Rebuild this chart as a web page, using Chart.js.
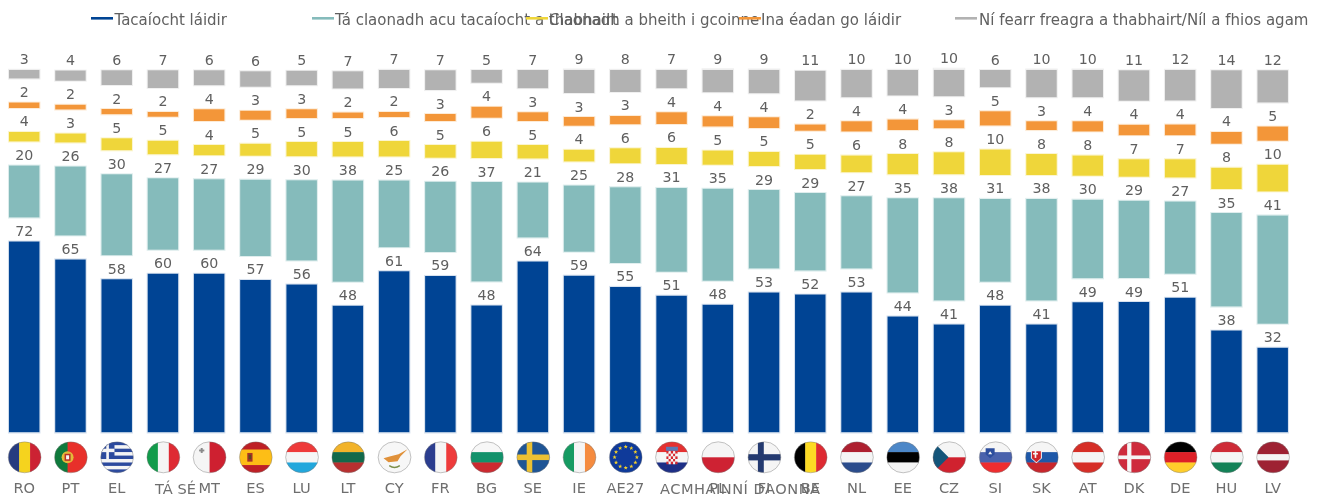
<!DOCTYPE html>
<html lang="ga">
<head>
<meta charset="utf-8">
<title>Tacaíocht</title>
<style>html,body{margin:0;padding:0;background:#fff}canvas{display:block}</style>
<script src="https://cdn.jsdelivr.net/npm/chart.js@4/dist/chart.umd.min.js"></script>
</head>
<body>
<canvas id="c" width="1326" height="497"></canvas>
<script>
const codes = ["RO","PT","EL","IT","MT","ES","LU","LT","CY","FR","BG","SE","IE","EU","HR","PL","FI","BE","NL","EE","CZ","SI","SK","AT","DK","DE","HU","LV"];
const categories = ["RO","PT","EL","TÁ SÉ","MT","ES","LU","LT","CY","FR","BG","SE","IE","AE27","ACMHAINNÍ DAONNA","PL","FI","BE","NL","EE","CZ","SI","SK","AT","DK","DE","HU","LV"];
const seriesNames = ["Tacaíocht láidir","Tá claonadh acu tacaíocht a thabhairt","Claonadh a bheith i gcoinne","Ina éadan go láidir","Ní fearr freagra a thabhairt/Níl a fhios agam"];
const strongSupport = [71.6,64.9,57.5,59.5,59.5,57.2,55.5,47.5,60.5,58.7,47.6,64.1,58.8,54.6,51.3,47.9,52.5,51.7,52.5,43.5,40.5,47.5,40.5,48.8,48.9,50.5,38.2,31.8];
const tendSupport = [19.5,25.8,30.3,26.8,26.5,28.6,30.1,38,25,26.3,37.3,20.6,24.8,28.4,31.4,34.5,29.4,29.1,27.1,35.3,38.3,31.1,38.1,29.5,29,27.1,35.1,40.6];
const tendOppose = [3.6,3.4,4.5,5.1,3.8,4.5,5.3,5.4,5.8,4.8,6.1,5.1,4.4,5.6,6,5.3,5.3,5.3,6.3,7.6,8.3,9.5,7.8,7.6,6.6,6.9,8,10];
const strongOppose = [2,1.8,2,1.8,4.4,3.3,3.3,2.1,1.9,2.6,4.1,3.3,3.3,3.1,4.4,3.9,4,2.4,3.8,4,3,5.4,3.3,3.8,3.9,4,4.4,5.3];
const dontKnow = [3.3,3.8,5.5,6.6,5.6,5.9,5.4,6.5,6.8,7.4,4.8,6.8,8.8,8.3,6.9,8.6,8.9,11.1,10.3,9.6,10.3,6.4,10.4,10.4,11.4,11.5,14.1,12.1];
const allSeries = [strongSupport,tendSupport,tendOppose,strongOppose,dontKnow];
const colours = ["#004494","#85BBBB","#EFD63A","#F39639","#B2B2B2"];
const fringe = ["#D5E0EE","#DEEDED","#FBF5CF","#FDEBD6","#EFEFEF"];
const gapUnits = 9;
const font = '"DejaVu Sans", Verdana, sans-serif';
const longLabels = {"TÁ SÉ":[155,0], "ACMHAINNÍ DAONNA":[660,0.5]};
const legendPos = [[91,114.5],[312,335],[526,549],[739,761],[955,979]];

const running = categories.map(()=>0);
const datasets = allSeries.map((vals,s)=>({
  label: seriesNames[s],
  data: vals.map((v,i)=>{const a=running[i];running[i]+=v+gapUnits;return [a,a+v];}),
  backgroundColor: colours[s],
  borderWidth: 0
}));

function stripes(ctx,box,dir,cols,weights){
  weights = weights||cols.map(()=>1);
  const tot = weights.reduce((a,b)=>a+b,0);
  let p = 0;
  cols.forEach((c,i)=>{
    const f = weights[i]/tot;
    ctx.fillStyle=c;
    if(dir==='h') ctx.fillRect(box.x,box.y+p*box.h,box.w,f*box.h+0.4);
    else ctx.fillRect(box.x+p*box.w,box.y,f*box.w+0.4,box.h);
    p+=f;
  });
}
function star(ctx,x,y,r){
  ctx.beginPath();
  for(let i=0;i<10;i++){
    const a=-Math.PI/2+i*Math.PI/5, q=i%2?r*0.42:r;
    ctx.lineTo(x+q*Math.cos(a),y+q*Math.sin(a));
  }
  ctx.closePath();ctx.fill();
}
const W="#F5F5F5";
function drawFlag(ctx,code,cx,cy,rx,ry){
  ctx.save();
  ctx.beginPath();ctx.ellipse(cx,cy,rx,ry,0,0,Math.PI*2);ctx.clip();
  const b={x:cx-rx,y:cy-ry,w:rx*2,h:ry*2};
  const rect=(c,x,y,w,h)=>{ctx.fillStyle=c;ctx.fillRect(b.x+x*b.w,b.y+y*b.h,w*b.w,h*b.h);};
  switch(code){
    case"RO":stripes(ctx,b,'v',["#263B80","#F5D31E","#CC2233"]);break;
    case"PT":stripes(ctx,b,'v',["#0F7A3C","#E8302A"],[2,3]);
      ctx.fillStyle="#E3B93A";ctx.beginPath();ctx.arc(cx-rx*0.2,cy,6,0,7);ctx.fill();
      ctx.fillStyle="#B8312A";ctx.fillRect(cx-rx*0.2-3,cy-3.5,6,7);
      ctx.fillStyle=W;ctx.fillRect(cx-rx*0.2-1.5,cy-2,3,4);break;
    case"EL":stripes(ctx,b,'h',["#2C4A9E",W,"#2C4A9E",W,"#2C4A9E",W,"#2C4A9E",W,"#2C4A9E"]);
      rect("#2C4A9E",0,0,0.42,5/9);rect(W,0.17,0,0.08,5/9);rect(W,0,2/9,0.42,1/9);break;
    case"IT":stripes(ctx,b,'v',["#129B4B",W,"#DE2A33"]);break;
    case"MT":stripes(ctx,b,'v',[W,"#CE2030"]);
      rect("#8A8A8A",0.23,0.2,0.06,0.16);rect("#8A8A8A",0.18,0.25,0.16,0.06);break;
    case"ES":stripes(ctx,b,'h',["#BE2026","#FDBE16","#BE2026"],[1,2,1]);
      rect("#A5322A",0.24,0.36,0.16,0.28);rect("#5A4A20",0.28,0.42,0.08,0.14);break;
    case"LU":stripes(ctx,b,'h',["#EE3A3A",W,"#22A7DC"]);break;
    case"LT":stripes(ctx,b,'h',["#F2B32A","#12694A","#B83030"]);break;
    case"CY":ctx.fillStyle="#F7F7F7";ctx.fillRect(b.x,b.y,b.w,b.h);
      ctx.fillStyle="#E0913A";ctx.beginPath();
      ctx.moveTo(cx-11,cy+1);ctx.lineTo(cx-4,cy-1);ctx.lineTo(cx+4,cy-3);ctx.lineTo(cx+13,cy-8);ctx.lineTo(cx+6,cy-1);ctx.lineTo(cx+3,cy+4);ctx.lineTo(cx-6,cy+5);ctx.closePath();ctx.fill();
      ctx.strokeStyle="#7C8F4A";ctx.lineWidth=1.4;ctx.beginPath();ctx.arc(cx,cy+1,9,Math.PI*0.3,Math.PI*0.7);ctx.stroke();break;
    case"FR":stripes(ctx,b,'v',["#2B3D8F",W,"#EE3B3B"]);break;
    case"BG":stripes(ctx,b,'h',["#F7F7F7","#12926B","#CC2A30"]);break;
    case"SE":ctx.fillStyle="#1E5596";ctx.fillRect(b.x,b.y,b.w,b.h);rect("#EBC033",0.3,0,0.17,1);rect("#EBC033",0,0.41,1,0.18);break;
    case"IE":stripes(ctx,b,'v',["#169B62",W,"#F58B3F"]);break;
    case"EU":ctx.fillStyle="#0F3A9A";ctx.fillRect(b.x,b.y,b.w,b.h);ctx.fillStyle="#F2CF2B";
      for(let i=0;i<12;i++){const a=i*Math.PI/6;star(ctx,cx+rx*0.68*Math.cos(a),cy+ry*0.68*Math.sin(a),2.2);}break;
    case"HR":stripes(ctx,b,'h',["#E53030",W,"#1D2F86"]);
      rect("#5B79B5",0.32,0.16,0.36,0.13);
      for(let r=0;r<5;r++)for(let q=0;q<5;q++){rect((r+q)%2?W:"#D6262E",0.33+q*0.068,0.3+r*0.085,0.068,0.085);}break;
    case"PL":stripes(ctx,b,'h',[W,"#CE2233"]);break;
    case"FI":ctx.fillStyle=W;ctx.fillRect(b.x,b.y,b.w,b.h);rect("#243A70",0.3,0,0.18,1);rect("#243A70",0,0.4,1,0.2);break;
    case"BE":stripes(ctx,b,'v',["#000000","#FDDA24","#DE2A32"]);break;
    case"NL":stripes(ctx,b,'h',["#AE2030",W,"#2B4C8C"]);break;
    case"EE":stripes(ctx,b,'h',["#4C87C8","#000000",W]);break;
    case"CZ":stripes(ctx,b,'h',[W,"#D0222F"]);ctx.fillStyle="#14557A";ctx.beginPath();
      ctx.moveTo(b.x,b.y);ctx.lineTo(cx-rx*0.05,cy);ctx.lineTo(b.x,b.y+b.h);ctx.closePath();ctx.fill();break;
    case"SI":stripes(ctx,b,'h',[W,"#4A62AC","#EE2D2F"]);
      ctx.fillStyle="#2D4E9E";ctx.beginPath();ctx.moveTo(cx-10,cy-9);ctx.lineTo(cx-1,cy-9);ctx.lineTo(cx-1,cy-3);ctx.lineTo(cx-5.5,cy+1);ctx.lineTo(cx-10,cy-3);ctx.closePath();ctx.fill();
      ctx.fillStyle=W;ctx.beginPath();ctx.moveTo(cx-7.5,cy-3);ctx.lineTo(cx-5.5,cy-6);ctx.lineTo(cx-3.5,cy-3);ctx.closePath();ctx.fill();break;
    case"SK":stripes(ctx,b,'h',[W,"#1E58A8","#C8262C"]);
      ctx.fillStyle=W;ctx.beginPath();ctx.moveTo(cx-11,cy-7);ctx.lineTo(cx,cy-7);ctx.lineTo(cx,cy+1);ctx.lineTo(cx-5.5,cy+6);ctx.lineTo(cx-11,cy+1);ctx.closePath();ctx.fill();
      ctx.fillStyle="#D0262C";ctx.beginPath();ctx.moveTo(cx-10,cy-6);ctx.lineTo(cx-1,cy-6);ctx.lineTo(cx-1,cy+1);ctx.lineTo(cx-5.5,cy+5);ctx.lineTo(cx-10,cy+1);ctx.closePath();ctx.fill();
      rect(W,0.28,0.28,0.05,0.24);rect(W,0.23,0.36,0.15,0.05);break;
    case"AT":stripes(ctx,b,'h',["#D62E27",W,"#D62E27"]);break;
    case"DK":ctx.fillStyle="#CE2B3C";ctx.fillRect(b.x,b.y,b.w,b.h);rect(W,0.28,0,0.13,1);rect(W,0,0.44,1,0.12);break;
    case"DE":stripes(ctx,b,'h',["#000000","#DD2027","#FFCE2B"]);break;
    case"HU":stripes(ctx,b,'h',["#CE2B37",W,"#138157"]);break;
    case"LV":stripes(ctx,b,'h',["#9E2233",W,"#9E2233"],[2,1,2]);break;
  }
  ctx.restore();
  ctx.strokeStyle="rgba(120,120,120,0.55)";ctx.lineWidth=0.8;
  ctx.beginPath();ctx.ellipse(cx,cy,rx,ry,0,0,Math.PI*2);ctx.stroke();
}

const decorations = {
  id:'decorations',
  beforeDatasetsDraw(chart){
    const ctx=chart.ctx;
    ctx.save();ctx.lineWidth=1;
    chart.data.datasets.forEach((d,s)=>{
      ctx.strokeStyle=fringe[s];
      chart.getDatasetMeta(s).data.forEach(el=>{
        const p=el.getProps(['x','y','base','width'],true);
        ctx.strokeRect(p.x-p.width/2-0.5,p.y-0.5,p.width+1,p.base-p.y+1);
      });
    });
    ctx.restore();
  },
  afterDatasetsDraw(chart){
    const ctx=chart.ctx;
    ctx.save();
    ctx.font='14.2px '+font;ctx.fillStyle='#5f5f5f';ctx.textAlign='center';ctx.textBaseline='alphabetic';
    allSeries.forEach((vals,s)=>{
      chart.getDatasetMeta(s).data.forEach((el,i)=>{
        const p=el.getProps(['x','y'],true);
        ctx.fillText(String(Math.round(vals[i])),p.x,p.y-5.5);
      });
    });
    const xs=chart.scales.x;
    codes.forEach((code,i)=>drawFlag(ctx,code,xs.getPixelForValue(i)+0.4,457.3,16.4,15.5));
    ctx.font='14.6px '+font;ctx.fillStyle='#6e6e6e';ctx.textAlign='left';ctx.textBaseline='alphabetic';
    categories.forEach(c=>{
      if(longLabels[c]!==undefined){
        ctx.letterSpacing=longLabels[c][1]+'px';
        ctx.fillText(c,longLabels[c][0],494);
        ctx.letterSpacing='0px';
      }
    });
    ctx.font='15px '+font;ctx.fillStyle='#606060';
    seriesNames.forEach((n,s)=>{
      ctx.fillStyle=colours[s];ctx.fillRect(legendPos[s][0],17,22,2.6);
      ctx.fillStyle='#606060';ctx.fillText(n,legendPos[s][1],24.5);
    });
    ctx.restore();
  }
};

new Chart(document.getElementById('c'),{
  type:'bar',
  data:{labels:categories,datasets},
  plugins:[decorations],
  options:{
    responsive:false,animation:false,
    layout:{padding:{left:1.1,right:30.2,top:69.8,bottom:0}},
    plugins:{legend:{display:false},tooltip:{enabled:false},title:{display:false}},
    datasets:{bar:{barPercentage:0.66,categoryPercentage:1,grouped:false}},
    scales:{
      x:{
        grid:{display:false},border:{display:false},
        afterFit(s){s.height=64.5;s.paddingLeft=0;s.paddingRight=0;},
        ticks:{
          autoSkip:false,maxRotation:0,minRotation:0,padding:40,color:'#6e6e6e',
          font:{family:font,size:14.6},
          callback(v){const l=this.getLabelForValue(v);return longLabels[l]!==undefined?'':l;}
        }
      },
      y:{display:false,min:0,max:136}
    }
  }
});
</script>
</body>
</html>
